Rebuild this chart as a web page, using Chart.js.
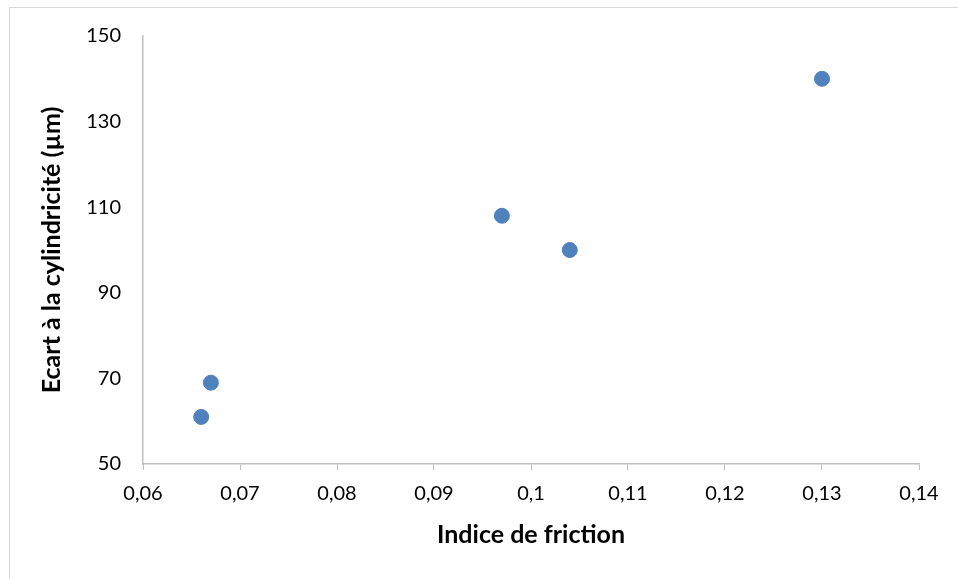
<!DOCTYPE html>
<html>
<head>
<meta charset="utf-8">
<script src="https://cdn.jsdelivr.net/npm/chart.js@4/dist/chart.umd.min.js"></script>
<style>
  html, body { margin: 0; padding: 0; background: #fff; }
  #wrap { position: relative; width: 958px; height: 579px; }
  #frame { position: absolute; left: 9px; top: 7px; width: 960px; height: 600px; border: 1px solid #d9d9d9; box-sizing: border-box; }
  canvas { position: absolute; left: 0; top: 0; }
</style>
</head>
<body>
<div id="wrap">
  <div id="frame"></div>
  <canvas id="chart" width="958" height="579"></canvas>
</div>
<script>
// Indice de friction vs écart à la cylindricité
const frictionIndex = [0.066, 0.067, 0.097, 0.104, 0.13];
const cylDeviation = [61, 69, 108, 100, 140];
const xTicks = [0.06, 0.07, 0.08, 0.09, 0.10, 0.11, 0.12, 0.13, 0.14];
const yTicks = [50, 70, 90, 110, 130, 150];

const points = frictionIndex.map((x, i) => ({ x: x, y: cylDeviation[i] }));
const axisColor = '#bfbfbf';
const textColor = '#000000';
const fontFamily = 'Lato, "Open Sans", sans-serif';

const ctx = document.getElementById('chart');
new Chart(ctx.getContext('2d'), {
    type: 'scatter',
    data: {
        datasets: [{
            label: 'Ecart',
            data: points,
            backgroundColor: '#4F81BD',
            borderColor: '#4F81BD',
            pointRadius: 7.5,
            pointHoverRadius: 7.5
        }]
    },
    options: {
        responsive: false,
        animation: false,
        layout: { padding: { left: 0, top: 36, right: 39, bottom: 0 } },
        plugins: {
            legend: { display: false },
            tooltip: { enabled: false }
        },
        scales: {
            x: {
                type: 'linear',
                min: 0.06,
                max: 0.14,
                afterBuildTicks: function(scale) {
                    scale.ticks = xTicks.map(v => ({ value: v }));
                },
                afterFit: function(scale) { scale.height = 115; },
                grid: {
                    display: true,
                    drawOnChartArea: false,
                    drawTicks: true,
                    tickLength: 6,
                    color: axisColor,
                    tickColor: axisColor
                },
                border: { display: true, color: axisColor, width: 1.5 },
                ticks: {
                    color: textColor,
                    padding: 12,
                    font: { family: fontFamily, size: 20 },
                    callback: function(v) {
                        return (Math.round(v * 100) / 100).toString().replace('.', ',');
                    }
                },
                title: {
                    display: true,
                    text: 'Indice de friction',
                    color: textColor,
                    font: { family: fontFamily, size: 25, weight: 'bold' },
                    padding: { top: 0, bottom: 29 }
                }
            },
            y: {
                type: 'linear',
                min: 50,
                max: 150,
                afterBuildTicks: function(scale) {
                    scale.ticks = yTicks.map(v => ({ value: v }));
                },
                afterFit: function(scale) { scale.width = 143; },
                grid: {
                    display: true,
                    drawOnChartArea: false,
                    drawTicks: false,
                    color: axisColor
                },
                border: { display: true, color: axisColor, width: 1.5 },
                ticks: {
                    color: textColor,
                    padding: 22,
                    font: { family: fontFamily, size: 20 }
                },
                title: {
                    display: true,
                    text: 'Ecart à la cylindricité (µm)',
                    color: textColor,
                    font: { family: fontFamily, size: 25, weight: 'bold' },
                    padding: { top: 37, bottom: 0 }
                }
            }
        }
    }
});
</script>
</body>
</html>
